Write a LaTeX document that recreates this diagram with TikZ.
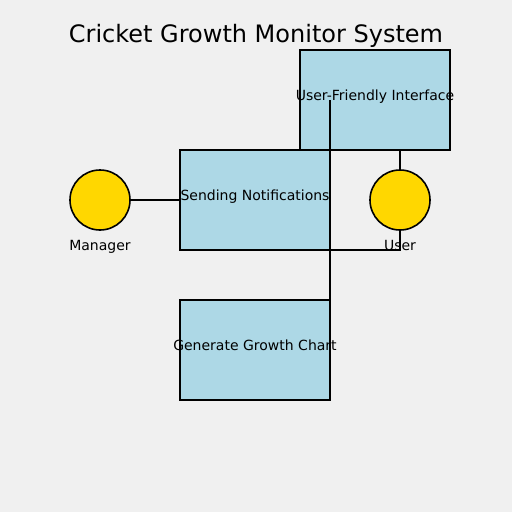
\documentclass[tikz,border=0pt]{standalone}
\usepackage{fontspec}
\setmainfont{DejaVu Sans}
\usepackage{xcolor}
\usetikzlibrary{positioning,calc}
\definecolor{canvasgray}{HTML}{F0F0F0}
\definecolor{boxblue}{HTML}{ADD8E6}
\definecolor{actorgold}{HTML}{FFD700}
\newcommand{\boxtext}[1]{\makebox[0pt]{#1}}

\begin{document}
\begin{tikzpicture}[
  x=1pt, y=-1pt,
  box/.style={draw, line width=2pt, fill=boxblue, minimum width=150pt, minimum height=100pt, inner sep=0pt, outer sep=0pt,
              text height=0pt, text depth=0pt, font=\fontsize{14}{16}\selectfont},
  actor/.style={circle, draw, line width=1.6pt, fill=actorgold, minimum size=60pt, inner sep=0pt, outer sep=0pt},
  txt/.style={anchor=base, inner sep=0pt, font=\fontsize{14}{16}\selectfont},
  link/.style={line width=2pt}
]
  % Canvas and title
  \fill[canvasgray] (0,0) rectangle (512,512);
  \node[anchor=base, inner sep=0pt, font=\fontsize{24}{28}\selectfont] (title) at (256,42) {Cricket Growth Monitor System};

  % Use cases
  \node[box] (iface) at (375,100) {\boxtext{User-Friendly Interface}};
  \node[box] (notif) at (255,200) {\boxtext{Sending Notifications}};
  \node[box] (chart) at (255,350) {\boxtext{Generate Growth Chart}};

  % Actors
  \node[actor, label={[txt, yshift=-20pt]below:Manager}] (manager) at (100,200) {};
  \node[actor, label={[txt, yshift=-20pt]below:User}] (user) at (400,200) {};

  % Connectors
  \coordinate (ifacejoin) at ($(iface.west)+(30,0)$);
  \draw[link] (manager) -- (notif);
  \draw[link] (ifacejoin) -- (chart.north east);
  \draw[link] (user.north) -- (user.north |- iface.south);
  \draw[link] (user.south) |- (notif.south east);
\end{tikzpicture}
\end{document}
